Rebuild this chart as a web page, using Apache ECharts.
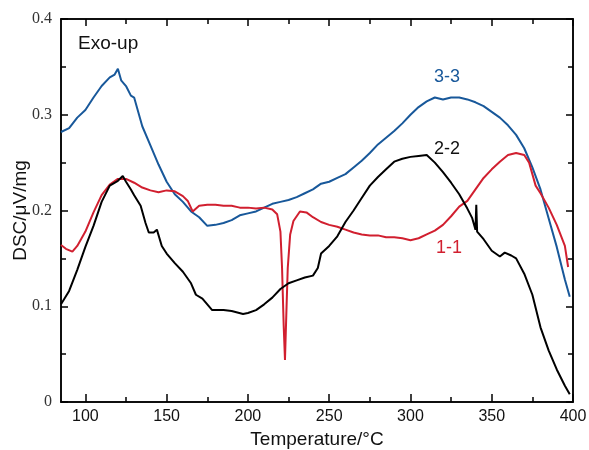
<!DOCTYPE html>
<html>
<head>
<meta charset="utf-8">
<script src="https://cdn.jsdelivr.net/npm/echarts@6/dist/echarts.min.js"></script>
<style>
  html, body { margin: 0; padding: 0; background: #fff; }
  #chart { width: 589px; height: 450px; }
</style>
</head>
<body>
<div id="chart"></div>
<script>
// 3-3 (blue)
var temp33 = [85, 90, 95, 100, 105, 110, 115, 118, 120, 122, 125, 128, 130, 135, 140, 145, 150, 155, 160, 165,
  170, 175, 180, 185, 190, 195, 200, 205, 210, 215, 220, 225, 230, 235, 240, 245, 250, 255, 260, 265,
  270, 275, 280, 285, 290, 295, 300, 305, 310, 315, 320, 325, 330, 335, 340, 345, 350, 355, 360, 365,
  370, 375, 380, 385, 390, 395, 398]
var dsc33 = [0.282, 0.286, 0.297, 0.305, 0.318, 0.330, 0.339, 0.342, 0.348, 0.336, 0.330, 0.320, 0.318, 0.288, 0.268, 0.248, 0.230, 0.217, 0.209, 0.199,
  0.193, 0.184, 0.185, 0.187, 0.190, 0.195, 0.197, 0.199, 0.203, 0.207, 0.209, 0.211, 0.214, 0.218, 0.222, 0.228, 0.230, 0.234, 0.238, 0.245,
  0.252, 0.260, 0.269, 0.276, 0.283, 0.291, 0.300, 0.308, 0.314, 0.318, 0.316, 0.318, 0.318, 0.316, 0.313, 0.309, 0.303, 0.297, 0.289, 0.279,
  0.265, 0.245, 0.222, 0.192, 0.162, 0.128, 0.110]

// 1-1 (red)
var temp11 = [85, 88, 92, 95, 100, 105, 110, 115, 120, 125, 130, 135, 140, 145, 150, 155, 160, 163, 166, 170,
  175, 180, 185, 190, 195, 200, 205, 210, 215, 218, 220, 221, 222, 222.8, 223.6, 224.5, 226, 228, 232, 236,
  240, 245, 250, 255, 260, 265, 270, 275, 280, 285, 290, 295, 300, 305, 310, 315, 320, 325, 330, 335,
  340, 345, 350, 355, 360, 365, 370, 373, 377, 380, 385, 390, 395, 397]
var dsc11 = [0.164, 0.160, 0.157, 0.163, 0.178, 0.198, 0.216, 0.227, 0.233, 0.233, 0.229, 0.224, 0.221, 0.219, 0.221, 0.220, 0.215, 0.210, 0.199, 0.205,
  0.206, 0.206, 0.205, 0.205, 0.203, 0.203, 0.202, 0.203, 0.201, 0.196, 0.178, 0.140, 0.080, 0.044, 0.090, 0.140, 0.175, 0.189, 0.199, 0.198,
  0.193, 0.188, 0.185, 0.183, 0.180, 0.177, 0.175, 0.174, 0.174, 0.172, 0.172, 0.171, 0.169, 0.171, 0.175, 0.179, 0.185, 0.194, 0.204, 0.210,
  0.222, 0.234, 0.243, 0.251, 0.258, 0.260, 0.258, 0.250, 0.226, 0.218, 0.203, 0.185, 0.163, 0.141]

// 2-2 (black)
var temp22 = [85, 90, 95, 100, 105, 110, 115, 120, 123, 125, 128, 130, 134, 137, 139, 142, 144, 147, 150, 155,
  160, 165, 168, 172, 175, 178, 185, 190, 197, 200, 205, 210, 215, 220, 225, 230, 235, 240, 243, 245,
  250, 255, 260, 265, 270, 275, 280, 285, 290, 295, 300, 305, 310, 315, 320, 325, 330, 335, 338, 340,
  340.5, 341, 345, 350, 355, 358, 362, 365, 370, 375, 380, 385, 390, 395, 398]
var dsc22 = [0.102, 0.116, 0.138, 0.162, 0.184, 0.209, 0.226, 0.231, 0.236, 0.230, 0.222, 0.216, 0.205, 0.187, 0.177, 0.177, 0.180, 0.163, 0.155, 0.145,
  0.136, 0.124, 0.112, 0.108, 0.102, 0.096, 0.096, 0.095, 0.092, 0.093, 0.096, 0.102, 0.109, 0.118, 0.124, 0.127, 0.130, 0.132, 0.140, 0.155,
  0.163, 0.173, 0.188, 0.200, 0.213, 0.226, 0.235, 0.243, 0.251, 0.254, 0.256, 0.257, 0.258, 0.250, 0.240, 0.229, 0.217, 0.202, 0.192, 0.180,
  0.206, 0.178, 0.170, 0.158, 0.152, 0.156, 0.153, 0.150, 0.134, 0.112, 0.078, 0.054, 0.034, 0.017, 0.008]

var xLabels = [100, 150, 200, 250, 300, 350, 400]
var xMinor = [125, 175, 225, 275, 325, 375]
var yLabels = [0, 0.1, 0.2, 0.3, 0.4]
var yMinor = [0.05, 0.15, 0.25, 0.35]

var BLUE = '#18589a', RED = '#d11f2f', BLACK = '#000'

function pairs(xs, ys) {
  return xs.map(function (x, i) { return [x, ys[i]] })
}

var chart = echarts.init(document.getElementById('chart'))

// one axis helper, used for the frame on four sides
function xAx(pos, ticks, len, labels) {
  return {
    type: 'value', position: pos, min: 85, max: 400,
    axisLine: { show: true, onZero: false, lineStyle: { color: '#000', width: 1.5 } },
    axisTick: { show: true, inside: true, length: len, customValues: ticks, lineStyle: { color: '#000', width: 1.5 } },
    axisLabel: labels ? {
      show: true, customValues: labels, color: '#111', fontSize: 16,
      fontFamily: 'Liberation Sans', margin: 7
    } : { show: false },
    splitLine: { show: false }
  }
}
function yAx(pos, ticks, len, labels) {
  return {
    type: 'value', position: pos, min: 0, max: 0.4,
    axisLine: { show: true, onZero: false, lineStyle: { color: '#000', width: 1.5 } },
    axisTick: { show: true, inside: true, length: len, customValues: ticks, lineStyle: { color: '#000', width: 1.5 } },
    axisLabel: labels ? {
      show: true, customValues: labels, color: '#333', fontSize: 16,
      fontFamily: 'Liberation Serif', margin: 9,
      formatter: function (v) { return v === 0 ? '0' : v.toFixed(1) }
    } : { show: false },
    splitLine: { show: false }
  }
}

var xAxes = [
  xAx('bottom', xLabels, 8, xLabels),
  xAx('bottom', xMinor, 5, null),
  xAx('top', xLabels, 7, null),
  xAx('top', xMinor, 5, null)
]
xAxes[0].name = 'Temperature/°C'
xAxes[0].nameLocation = 'middle'
xAxes[0].nameGap = 27
xAxes[0].nameTextStyle = { color: '#111', fontSize: 19, fontFamily: 'Liberation Sans' }

var yAxes = [
  yAx('left', yLabels, 7, yLabels),
  yAx('left', yMinor, 5, null),
  yAx('right', yLabels, 7, null),
  yAx('right', yMinor, 5, null)
]
yAxes[0].name = 'DSC/μV/mg'
yAxes[0].nameLocation = 'middle'
yAxes[0].nameGap = 31
yAxes[0].nameMoveOverlap = false
yAxes[0].nameTextStyle = { color: '#111', fontSize: 19, fontFamily: 'Liberation Sans' }

function line(name, data, color) {
  return {
    name: name, type: 'line', data: data,
    xAxisIndex: 0, yAxisIndex: 0,
    showSymbol: false, symbol: 'none', smooth: false,
    lineStyle: { color: color, width: 2 },
    animation: false
  }
}

var option = {
  animation: false,
  grid: { left: 61, right: 16, top: 19, bottom: 48, containLabel: false, outerBoundsMode: 'none' },
  xAxis: xAxes,
  yAxis: yAxes,
  graphic: [
    { type: 'text', left: 78, top: 34, style: { text: 'Exo-up', fill: '#111', font: '19px "Liberation Sans"' } },
    { type: 'text', left: 434, top: 68, style: { text: '3-3', fill: BLUE, font: '18px "Liberation Sans"' } },
    { type: 'text', left: 434, top: 140, style: { text: '2-2', fill: '#111', font: '18px "Liberation Sans"' } },
    { type: 'text', left: 436, top: 239, style: { text: '1-1', fill: RED, font: '18px "Liberation Sans"' } }
  ],
  series: [
    line('3-3', pairs(temp33, dsc33), BLUE),
    line('1-1', pairs(temp11, dsc11), RED),
    line('2-2', pairs(temp22, dsc22), BLACK)
  ]
}

chart.setOption(option)
</script>
</body>
</html>
